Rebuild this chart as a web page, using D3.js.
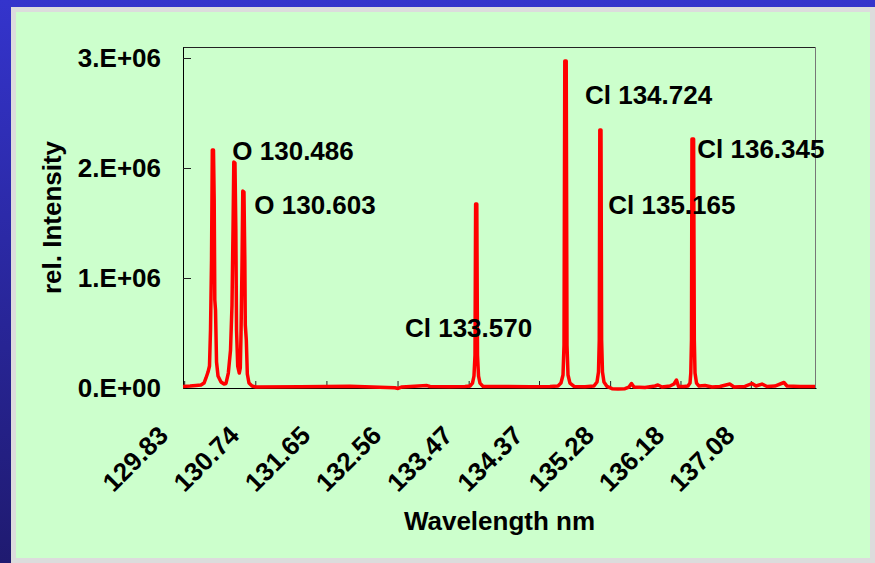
<!DOCTYPE html>
<html>
<head>
<meta charset="utf-8">
<script src="https://cdn.jsdelivr.net/npm/d3@7"></script>
<style>
  html, body { margin: 0; padding: 0; background: #fff; }
  svg { display: block; }
  text { font-family: "Liberation Sans", Arial, sans-serif; font-weight: bold; fill: #000; }
</style>
</head>
<body>
<div id="chart"></div>
<script>
// spectrum points (wavelength in nm, intensity in counts)
var wavelength = [
  129.815, 129.905, 129.981, 130.045, 130.084, 130.109, 130.135, 130.154, 130.167, 130.180,
  130.190, 130.205, 130.214, 130.222, 130.231, 130.244, 130.263, 130.301, 130.340, 130.365,
  130.395, 130.423, 130.442, 130.455, 130.465, 130.480, 130.491, 130.500, 130.515, 130.535,
  130.548, 130.557, 130.570, 130.580, 130.595, 130.606, 130.612, 130.625, 130.638, 130.659,
  130.698, 130.749, 131.312, 131.952, 132.527, 132.566, 132.617, 132.937, 132.975, 133.231,
  133.423, 133.487, 133.519, 133.538, 133.551, 133.559, 133.574, 133.583, 133.596, 133.615,
  133.653, 133.871, 134.255, 134.510, 134.613, 134.651, 134.677, 134.690, 134.700, 134.718,
  134.728, 134.741, 134.766, 134.818, 134.958, 135.073, 135.112, 135.131, 135.141, 135.148,
  135.163, 135.171, 135.182, 135.201, 135.240, 135.304, 135.380, 135.470, 135.521, 135.553,
  135.585, 135.726, 135.854, 135.892, 135.943, 136.046, 136.097, 136.129, 136.155, 136.225,
  136.276, 136.302, 136.312, 136.321, 136.327, 136.348, 136.357, 136.366, 136.385, 136.417,
  136.494, 136.583, 136.685, 136.813, 136.865, 137.005, 137.095, 137.146, 137.223, 137.287,
  137.389, 137.504, 137.543, 137.709, 137.901
];
var intensity = [
  0.014e6, 0.018e6, 0.023e6, 0.027e6, 0.045e6, 0.091e6, 0.145e6, 0.200e6, 0.527e6, 1.164e6,
  2.164e6, 2.164e6, 1.709e6, 0.800e6, 0.709e6, 0.236e6, 0.109e6, 0.055e6, 0.036e6, 0.041e6,
  0.136e6, 0.345e6, 0.755e6, 1.436e6, 2.055e6, 2.045e6, 1.436e6, 0.527e6, 0.200e6, 0.136e6,
  0.182e6, 0.482e6, 1.118e6, 1.791e6, 1.782e6, 1.164e6, 0.573e6, 0.436e6, 0.127e6, 0.045e6,
  0.018e6, 0.009e6, 0.012e6, 0.015e6, 0.002e6, -0.004e6, 0.010e6, 0.022e6, 0.014e6, 0.012e6,
  0.014e6, 0.018e6, 0.045e6, 0.109e6, 0.300e6, 1.673e6, 1.673e6, 0.300e6, 0.109e6, 0.045e6,
  0.014e6, 0.014e6, 0.012e6, 0.014e6, 0.018e6, 0.045e6, 0.118e6, 0.391e6, 2.973e6, 2.973e6,
  0.391e6, 0.118e6, 0.045e6, 0.014e6, 0.012e6, 0.018e6, 0.055e6, 0.145e6, 0.436e6, 2.345e6,
  2.345e6, 0.436e6, 0.145e6, 0.055e6, 0.014e6, -0.006e6, -0.010e6, -0.006e6, 0.009e6, 0.041e6,
  0.009e6, 0.005e6, 0.018e6, 0.027e6, 0.009e6, 0.018e6, 0.036e6, 0.073e6, 0.014e6, 0.014e6,
  0.018e6, 0.045e6, 0.136e6, 0.436e6, 2.264e6, 2.264e6, 0.436e6, 0.136e6, 0.045e6, 0.018e6,
  0.023e6, 0.009e6, 0.014e6, 0.036e6, 0.009e6, 0.014e6, 0.041e6, 0.018e6, 0.036e6, 0.014e6,
  0.018e6, 0.050e6, 0.018e6, 0.014e6, 0.014e6
];

var xTickValues = [129.83, 130.74, 131.65, 132.56, 133.47, 134.37, 135.28, 136.18, 137.08];
var xTickLabels = ["129.83", "130.74", "131.65", "132.56", "133.47", "134.37", "135.28", "136.18", "137.08"];
var yTickValues = [0, 1e6, 2e6, 3e6];
var yTickLabels = ["0.E+00", "1.E+06", "2.E+06", "3.E+06"];

// peak annotations, anchored in data units (start of text, baseline)
var peakNames = ["O 130.486", "O 130.603", "Cl 133.570", "Cl 134.724", "Cl 135.165", "Cl 136.345"];
var peakLabelX = [130.446, 130.727, 132.655, 134.958, 135.256, 136.395];
var peakLabelY = [2.073e6, 1.582e6, 0.464e6, 2.582e6, 1.582e6, 2.091e6];

var W = 875, H = 563;
var margin = {top: 47, right: 59, bottom: 175, left: 183};
var width = W - margin.left - margin.right,
    height = H - margin.top - margin.bottom;
var fontSize = "26px";

var svg = d3.select("#chart").append("svg")
    .attr("width", W)
    .attr("height", H);

// blue slide background with a light frame and green panel
var defs = svg.append("defs");
var grad = defs.append("linearGradient")
    .attr("id", "bg")
    .attr("x1", 0).attr("y1", 0).attr("x2", 0).attr("y2", 1);
grad.append("stop").attr("offset", "0%").attr("stop-color", "#3434cc");
grad.append("stop").attr("offset", "100%").attr("stop-color", "#1f1a70");

svg.append("rect").attr("width", W).attr("height", H).attr("fill", "url(#bg)");
svg.append("rect").attr("x", 11).attr("y", 7).attr("width", W - 11).attr("height", H - 7).attr("fill", "#dcdcdc");
svg.append("rect").attr("x", 16).attr("y", 12).attr("width", 854).attr("height", 546).attr("fill", "#ccffcc");

var g = svg.append("g")
    .attr("transform", `translate(${margin.left},${margin.top})`);

var x = d3.scaleLinear()
    .domain([129.815, 137.914])
    .range([0, width]);

var y = d3.scaleLinear()
    .domain([0, 3.1e6])
    .range([height, 0]);

// top and right frame lines
g.append("line")
    .attr("x1", 0).attr("x2", width)
    .attr("y1", 0.5).attr("y2", 0.5)
    .attr("stroke", "#222");
g.append("line")
    .attr("x1", width - 0.5).attr("x2", width - 0.5)
    .attr("y1", 0).attr("y2", height)
    .attr("stroke", "#777");

// Y axis
var yAxis = g.append("g")
    .style("color", "#222")
    .call(d3.axisLeft(y)
        .tickValues(yTickValues)
        .tickSizeInner(-8)
        .tickSizeOuter(0)
        .tickPadding(22)
        .tickFormat(function(d, i) { return yTickLabels[i]; }));
yAxis.selectAll("text")
    .style("font-size", fontSize)
    .attr("fill", "#000");

// X axis
var xAxis = g.append("g")
    .attr("transform", `translate(0,${height})`)
    .style("color", "#222")
    .call(d3.axisBottom(x)
        .tickValues(xTickValues)
        .tickSizeInner(-7)
        .tickSizeOuter(0)
        .tickFormat(function(d, i) { return xTickLabels[i]; }));
xAxis.selectAll("text")
    .attr("x", 0)
    .attr("y", 0)
    .attr("dy", null)
    .attr("text-anchor", "end")
    .attr("transform", "translate(-15,49) rotate(-45)")
    .style("font-size", fontSize)
    .attr("fill", "#000");
xAxis.select(".domain").attr("stroke", "#000");
yAxis.select(".domain").attr("stroke", "#000");

// spectrum line
var points = wavelength.map(function(w, i) { return [w, intensity[i]]; });
g.append("path")
    .datum(points)
    .attr("fill", "none")
    .attr("stroke", "#ff0000")
    .attr("stroke-width", 3.5)
    .attr("stroke-linejoin", "round")
    .attr("d", d3.line()
        .x(function(d) { return x(d[0]); })
        .y(function(d) { return y(d[1]); }));

// peak labels
g.selectAll(".peak-label")
    .data(peakNames)
    .enter().append("text")
    .attr("class", "peak-label")
    .attr("x", function(d, i) { return x(peakLabelX[i]); })
    .attr("y", function(d, i) { return y(peakLabelY[i]); })
    .style("font-size", fontSize)
    .text(function(d) { return d; });

// axis titles
svg.append("text")
    .attr("x", margin.left + width / 2)
    .attr("y", 530)
    .attr("text-anchor", "middle")
    .style("font-size", fontSize)
    .text("Wavelength nm");

svg.append("text")
    .attr("transform", `translate(61,${margin.top + height / 2}) rotate(-90)`)
    .attr("text-anchor", "middle")
    .style("font-size", fontSize)
    .text("rel. Intensity");
</script>
</body>
</html>
